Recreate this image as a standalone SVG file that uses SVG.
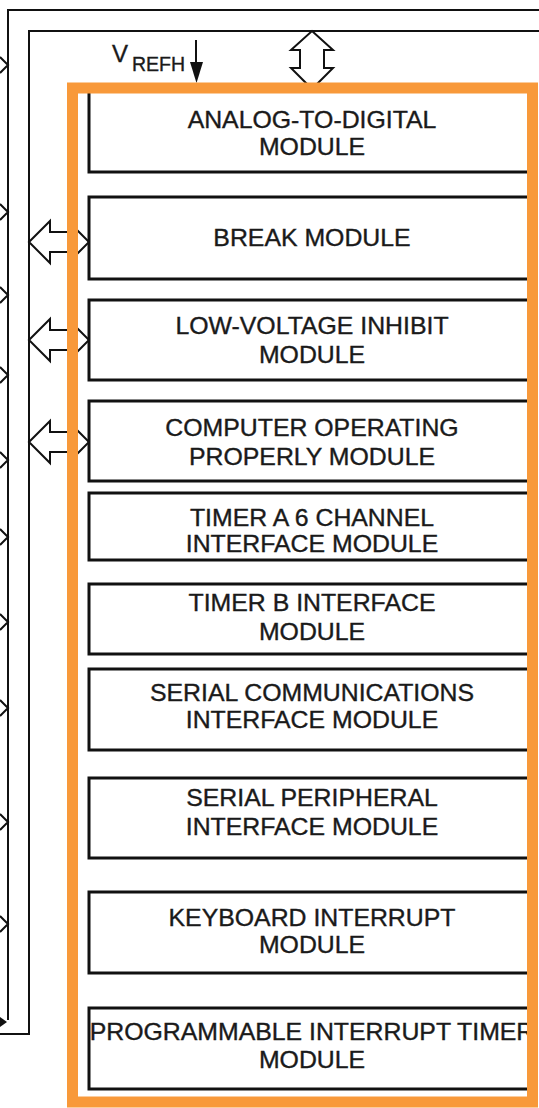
<svg xmlns="http://www.w3.org/2000/svg" width="539" height="1108" viewBox="0 0 539 1108">
<style>
.box{fill:#fff;stroke:#111;stroke-width:3}
.t{font-family:"Liberation Sans",Arial,sans-serif;font-size:23px;fill:#1a1a1a;stroke:#1a1a1a;stroke-width:0.35;text-anchor:middle}
.ln{fill:none;stroke:#111;stroke-width:2}
.hol{fill:#fff;stroke:#111;stroke-width:2;stroke-linejoin:miter}
.chev{fill:none;stroke:#111;stroke-width:2}
.lab{font-family:"Liberation Sans",Arial,sans-serif;fill:#1a1a1a;stroke:#1a1a1a;stroke-width:0.35}
</style>
<rect width="539" height="1108" fill="#fff"/>
<g id="connectors">
  <polyline class="ln" points="539,10 8,10 8,1020"/>
  <polyline class="ln" points="539,31 29,31 29,1034 0,1034"/>
  <polyline class="chev" points="0,57 8,65 0,73"/>
  <polyline class="chev" points="0,204 8,212 0,220"/>
  <polyline class="chev" points="0,287 8,295 0,303"/>
  <polyline class="chev" points="0,367 8,375 0,383"/>
  <polyline class="chev" points="0,452 8,460 0,468"/>
  <polyline class="chev" points="0,529 8,537 0,545"/>
  <polyline class="chev" points="0,614 8,622 0,630"/>
  <polyline class="chev" points="0,700 8,708 0,716"/>
  <polyline class="chev" points="0,814 8,822 0,830"/>
  <polyline class="chev" points="0,916 8,924 0,932"/>
  <polygon points="0,1017 7,1022 0,1027" fill="#111"/>
  <path class="hol" d="M312,31 L333,50 L324,50 L324,68 L333,68 L312,89 L291,68 L300,68 L300,50 L291,50 Z"/>
  <path class="hol" d="M29,242 L50,221 L50,232 L68,232 L68,221 L89,242 L68,263 L68,252 L50,252 L50,263 Z"/>
  <path class="hol" d="M29,340 L50,319 L50,330 L68,330 L68,319 L89,340 L68,361 L68,350 L50,350 L50,361 Z"/>
  <path class="hol" d="M29,442 L50,421 L50,432 L68,432 L68,421 L89,442 L68,463 L68,452 L50,452 L50,463 Z"/>
  <line x1="196" y1="40" x2="196" y2="64" stroke="#111" stroke-width="2"/>
  <polygon points="190,62 203,62 196.5,83" fill="#111"/>
  <text class="lab" x="112" y="62" font-size="24">V</text>
  <text class="lab" x="132" y="71" font-size="19.5">REFH</text>
</g>
<g id="adc"><rect class="box" x="89" y="90" width="445" height="82"/><g transform="matrix(1.08,0,0,1,312,0)"><text class="t" x="0" y="128">ANALOG-TO-DIGITAL</text><text class="t" x="0" y="155">MODULE</text></g></g>
<g id="break"><rect class="box" x="89" y="197" width="445" height="82"/><g transform="matrix(1.08,0,0,1,312,0)"><text class="t" x="0" y="246">BREAK MODULE</text></g></g>
<g id="lvi"><rect class="box" x="89" y="300" width="445" height="80"/><g transform="matrix(1.08,0,0,1,312,0)"><text class="t" x="0" y="334">LOW-VOLTAGE INHIBIT</text><text class="t" x="0" y="363">MODULE</text></g></g>
<g id="cop"><rect class="box" x="89" y="401" width="445" height="80"/><g transform="matrix(1.08,0,0,1,312,0)"><text class="t" x="0" y="436">COMPUTER OPERATING</text><text class="t" x="0" y="465">PROPERLY MODULE</text></g></g>
<g id="tima"><rect class="box" x="89" y="493" width="445" height="67"/><g transform="matrix(1.08,0,0,1,312,0)"><text class="t" x="0" y="526">TIMER A 6 CHANNEL</text><text class="t" x="0" y="552">INTERFACE MODULE</text></g></g>
<g id="timb"><rect class="box" x="89" y="584" width="445" height="70"/><g transform="matrix(1.08,0,0,1,312,0)"><text class="t" x="0" y="611">TIMER B INTERFACE</text><text class="t" x="0" y="640">MODULE</text></g></g>
<g id="sci"><rect class="box" x="89" y="669" width="445" height="81"/><g transform="matrix(1.08,0,0,1,312,0)"><text class="t" x="0" y="701">SERIAL COMMUNICATIONS</text><text class="t" x="0" y="728">INTERFACE MODULE</text></g></g>
<g id="spi"><rect class="box" x="89" y="778" width="445" height="80"/><g transform="matrix(1.08,0,0,1,312,0)"><text class="t" x="0" y="806">SERIAL PERIPHERAL</text><text class="t" x="0" y="835">INTERFACE MODULE</text></g></g>
<g id="kbi"><rect class="box" x="89" y="892" width="445" height="81"/><g transform="matrix(1.08,0,0,1,312,0)"><text class="t" x="0" y="926">KEYBOARD INTERRUPT</text><text class="t" x="0" y="953">MODULE</text></g></g>
<g id="pit"><rect class="box" x="89" y="1008" width="445" height="81"/><g transform="matrix(1.08,0,0,1,312,0)"><text class="t" x="0" y="1040">PROGRAMMABLE INTERRUPT TIMER</text><text class="t" x="0" y="1068">MODULE</text></g></g>
<g id="highlight"><rect x="72.5" y="88" width="460" height="1014" fill="none" stroke="#F8993A" stroke-width="11"/></g>
</svg>
